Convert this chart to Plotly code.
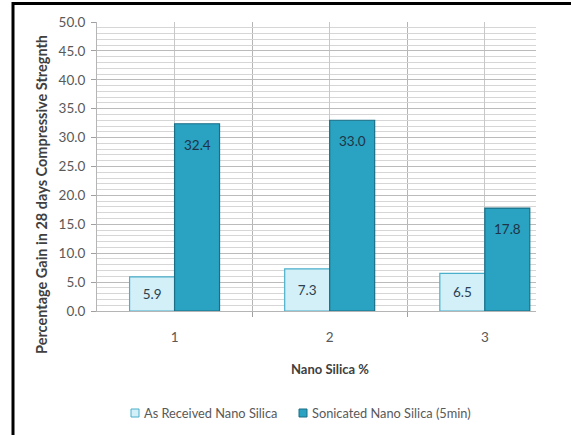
import plotly.graph_objects as go

categories = [1, 2, 3]
tick_labels = ["1", "2", "3"]
as_received = [5.9, 7.3, 6.5]
sonicated = [32.4, 33.0, 17.8]
series_names = ["As Received Nano Silica", "Sonicated Nano Silica (5min)"]

FONT = "Lato, 'Open Sans', sans-serif"
BW = 0.29
LIGHT_FILL, LIGHT_LINE = "#D3F0F9", "#4AAFCB"
DARK_FILL, DARK_LINE = "#2AA2C2", "#1A6E86"

W, H = 571, 435
PL, PR, PT, PB = 97, 536, 22, 311   # plot area in window pixels
L, T, R, B = PL, PT, W - PR, H - PB
pw, ph = PR - PL, PB - PT

def px(x):
    return (x - PL) / pw

def py(y):
    return (PB - y) / ph

fig = go.Figure()
fig.add_trace(go.Bar(
    x=categories, y=as_received, name=series_names[0],
    width=BW, offset=-BW,
    marker=dict(color=LIGHT_FILL, line=dict(color=LIGHT_LINE, width=1.2)),
    text=[f"{v:.1f}" for v in as_received], textposition="inside",
    insidetextanchor="middle",
    textfont=dict(family=FONT, size=13.5, color="#2B3F4F"),
))
fig.add_trace(go.Bar(
    x=categories, y=sonicated, name=series_names[1],
    width=BW, offset=0,
    marker=dict(color=DARK_FILL, line=dict(color=DARK_LINE, width=1.2)),
))
for c, v in zip(categories, sonicated):
    fig.add_annotation(x=c + BW / 2, y=v, text=f"{v:.1f}", showarrow=False,
                       yanchor="top", yshift=-11,
                       font=dict(family=FONT, size=13.5, color="#1F3446"))

fig.update_layout(
    width=W, height=H,
    margin=dict(l=L, r=R, t=T, b=B, autoexpand=False),
    paper_bgcolor="white", plot_bgcolor="white",
    font=dict(family=FONT, size=12, color="#595959"),
    barmode="overlay",
    showlegend=False,
    xaxis=dict(
        range=[0.5, 3.33], tickvals=categories, ticktext=tick_labels,
        showgrid=True, gridcolor="#C8C8C8", gridwidth=1,
        ticks="", ticklabelstandoff=14,
        tickfont=dict(family=FONT, size=13.5, color="#595959"),
        showline=True, linecolor="#B5B5B5", linewidth=1,
        minor=dict(tickvals=[1.5, 2.5], showgrid=True, gridcolor="#B5B5B5",
                   ticks="outside", ticklen=5, tickcolor="#A0A0A0"),
        zeroline=False,
    ),
    yaxis=dict(
        range=[0, 50], dtick=5, tickformat=".1f",
        showgrid=True, gridcolor="#BBBBBB", gridwidth=1.3,
        ticks="outside", ticklen=5, tickcolor="#A0A0A0",
        ticklabelstandoff=3,
        tickfont=dict(family=FONT, size=13.5, color="#595959"),
        showline=True, linecolor="#B5B5B5", linewidth=1,
        minor=dict(dtick=1, showgrid=True, gridcolor="#D6D6D6", gridwidth=1),
        zeroline=False,
    ),
)

# axis titles
fig.add_annotation(xref="paper", yref="paper", x=px(41), y=py(195),
                   text="<b>Percentage Gain in 28 days Compressive Stregnth</b>",
                   textangle=-90, showarrow=False, xanchor="center", yanchor="middle",
                   font=dict(family=FONT, size=14.5, color="#404040"))
fig.add_annotation(xref="x", yref="paper", x=2, y=py(369),
                   text="<b>Nano Silica %</b>", showarrow=False,
                   xanchor="center", yanchor="middle",
                   font=dict(family=FONT, size=13, color="#404040"))

# legend (drawn manually to match the compact swatch/text spacing)
legend_items = [(131, 142, LIGHT_FILL, LIGHT_LINE, series_names[0]),
                (299, 310, DARK_FILL, DARK_LINE, series_names[1])]
for sx, tx, fc, lc, name in legend_items:
    fig.add_shape(type="rect", xref="paper", yref="paper",
                  x0=px(sx), x1=px(sx + 8), y0=py(409), y1=py(417),
                  fillcolor=fc, line=dict(color=lc, width=1))
    fig.add_annotation(xref="paper", yref="paper", x=px(tx), y=py(413),
                       text=name, showarrow=False, xanchor="left", yanchor="middle",
                       font=dict(family=FONT, size=12.8, color="#595959"))

# outer frame (top and left edges visible)
fig.add_shape(type="rect", xref="paper", yref="paper",
              x0=px(13), x1=px(580), y0=py(3.5), y1=py(445),
              line=dict(color="black", width=3), fillcolor="rgba(0,0,0,0)",
              layer="above")

fig.write_html("out.html", config={"displayModeBar": False},
               post_script="document.body.style.margin='0';document.body.style.overflow='hidden';")
